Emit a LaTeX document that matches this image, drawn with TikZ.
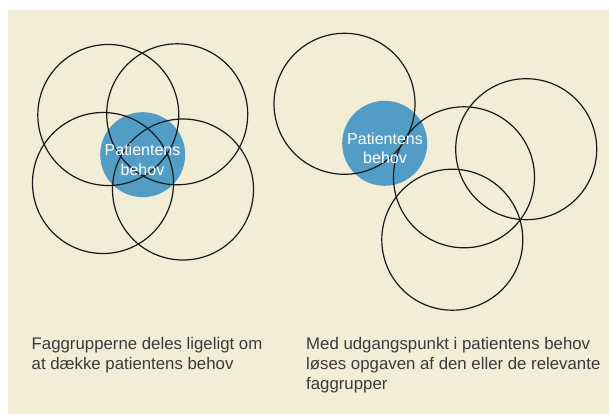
\documentclass[tikz,border=0pt]{standalone}
\usepackage{fontspec}
\setmainfont{Liberation Sans}
\definecolor{bgbeige}{RGB}{241,237,214}
\definecolor{needblue}{RGB}{81,157,197}
\definecolor{captiongray}{RGB}{58,58,58}
\begin{document}
\begin{tikzpicture}[x=1pt,y=-1pt,
  ring/.style={circle,draw=black!90,line width=1.2pt,minimum size=141pt,inner sep=0pt},
  need/.style={circle,fill=needblue,minimum size=85pt,inner sep=0pt},
  needtext/.style={text=white,font=\fontsize{16}{20}\selectfont,anchor=base,inner sep=0pt},
  caption/.style={text=captiongray,font=\fontsize{16.8}{20}\selectfont,anchor=base west,inner sep=0pt}]
\useasboundingbox (0,0) rectangle (609,414);
\fill[white] (0,0) rectangle (609,414);
\fill[bgbeige] (8,10) rectangle (609,414);
% left diagram
\node[need] (needL) at (142.7,154.7) {};
\node[ring] (L1) at (108.3,115) {};
\node[ring] (L2) at (177.2,114.3) {};
\node[ring] (L3) at (103,183) {};
\node[ring] (L4) at (183,189.5) {};
\node[needtext] (needLa) at (142.5,155) {Patientens};
\node[needtext] (needLb) at (142.5,175.5) {behov};
% right diagram
\node[need] (needR) at (384.7,143.3) {};
\node[ring] (R1) at (344.5,103.8) {};
\node[ring] (R2) at (464,177.3) {};
\node[ring] (R3) at (526.2,149.2) {};
\node[ring] (R4) at (452.3,239.7) {};
\node[needtext] (needRa) at (385,144) {Patientens};
\node[needtext] (needRb) at (385,163.5) {behov};
% captions
\node[caption] (capL1) at (31.5,349) {Faggrupperne deles ligeligt om};
\node[caption] (capL2) at (31.5,369) {at dække patientens behov};
\node[caption] (capR1) at (306,349) {Med udgangspunkt i patientens behov};
\node[caption] (capR2) at (306,369) {løses opgaven af den eller de relevante};
\node[caption] (capR3) at (306,389) {faggrupper};
\end{tikzpicture}
\end{document}
